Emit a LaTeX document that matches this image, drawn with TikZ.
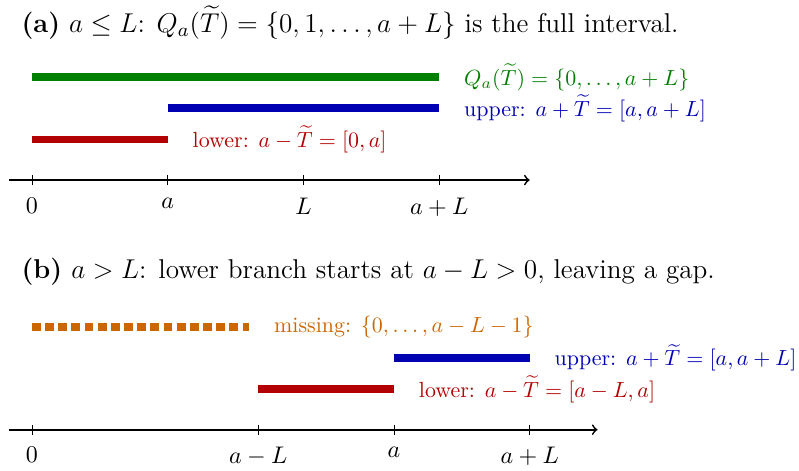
\RequirePackage{fix-cm}
\documentclass[tikz,border=0pt,11pt]{standalone}
\usepackage{amsmath, amssymb}
\usepackage{xcolor}
\usepackage{tikz}
\usetikzlibrary{arrows.meta, positioning}
\definecolor{fullgreen}{RGB}{0, 128, 0}
\definecolor{upperblue}{RGB}{0, 0, 179}
\definecolor{lowerred}{RGB}{179, 0, 0}
\definecolor{missorange}{RGB}{204, 102, 0}

\begin{document}
\begin{tikzpicture}[x=1.45cm, y=1cm, >=to]
\useasboundingbox (-0.3536,-4.647) rectangle (8.476,2.885);

% Panel (a): a <= L
\node[anchor=base west, inner sep=0pt, font=\fontsize{12.4}{15}\selectfont] at (-0.12,2.367) (titleA) {\textbf{(a)} $a \le L$: $Q_a(\widetilde{T}) = \{0,1,\dots,a+L\}$ is the full interval.};

% Sets of panel (a)
\draw[line width=3.5pt, fullgreen] (0,1.65) -- (4.5,1.65) node[right=6pt, font=\small, text=fullgreen] (fullA) {$Q_a(\widetilde{T}) = \{0,\dots,a+L\}$};
\draw[line width=3.5pt, upperblue] (1.5,1.15) -- (4.5,1.15) node[right=6pt, font=\small, text=upperblue] (upperA) {upper: $a+\widetilde{T} = [a,a+L]$};
\draw[line width=3.5pt, lowerred] (0,0.65) -- (1.5,0.65) node[right=6pt, font=\small, text=lowerred] (lowerA) {lower: $a-\widetilde{T} = [0,a]$};

% Axis of panel (a)
\draw[->, thick] (-0.25,0) -- (5.5,0);
\foreach \x/\lab [count=\i] in {0/0, 1.5/a, 3/L, 4.5/a+L} {
  \draw (\x,0.08) -- (\x,-0.08) node[below=2pt] (tickA\i) {$\lab$};
}

% Panel (b): a > L
\begin{scope}[yshift=-4cm]
\node[anchor=base west, inner sep=0pt, font=\fontsize{12.4}{15}\selectfont] at (-0.12,2.42) (titleB) {\textbf{(b)} $a > L$: lower branch starts at $a-L>0$, leaving a gap.};

% Sets of panel (b)
\draw[line width=3.5pt, missorange, dash pattern=on 4pt off 2pt] (0,1.65) -- (2.4,1.65) node[right=6pt, font=\small, text=missorange] (missB) {missing: $\{0,\dots,a-L-1\}$};
\draw[line width=3.5pt, upperblue] (4,1.15) -- (5.5,1.15) node[right=6pt, font=\small, text=upperblue] (upperB) {upper: $a+\widetilde{T} = [a,a+L]$};
\draw[line width=3.5pt, lowerred] (2.5,0.65) -- (4,0.65) node[right=6pt, font=\small, text=lowerred] (lowerB) {lower: $a-\widetilde{T} = [a-L,a]$};

% Axis of panel (b)
\draw[->, thick] (-0.25,0) -- (6.25,0);
\foreach \x/\lab [count=\i] in {0/0, 2.5/a-L, 4/a, 5.5/a+L} {
  \draw (\x,0.08) -- (\x,-0.08) node[below=2pt] (tickB\i) {$\lab$};
}
\end{scope}

\end{tikzpicture}
\end{document}
